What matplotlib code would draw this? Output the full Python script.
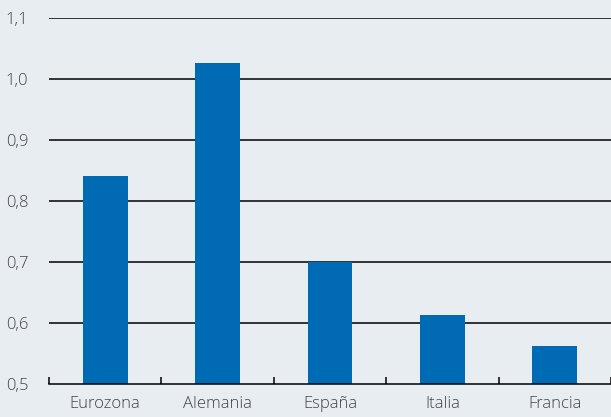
import matplotlib.pyplot as plt
import numpy as np

paises = ["Eurozona", "Alemania", "España", "Italia", "Francia"]
valores = [0.841, 1.026, 0.700, 0.613, 0.562]
yticks = [0.5, 0.6, 0.7, 0.8, 0.9, 1.0, 1.1]
ylabels = ["0,5", "0,6", "0,7", "0,8", "0,9", "1,0", "1,1"]

bg = "#e8edf2"
azul = "#006bb5"
texto = "#444444"

plt.rcParams['font.family'] = ['Open Sans', 'DejaVu Sans']

fig = plt.figure(figsize=(6.11, 4.17), dpi=100, facecolor=bg)
ax = fig.add_axes([49/611, 1 - 384/417, 1 - 49/611, (384 - 18)/417])
ax.set_facecolor(bg)

x = np.arange(len(paises))
ax.bar(x, valores, width=0.4, color=azul, zorder=3)

ax.set_ylim(0.5, 1.1)
ax.set_xlim(-0.5, len(paises) - 0.5)
ax.set_yticks(yticks)
ax.set_yticklabels(ylabels, color=texto, fontsize=12, fontweight='light')
for yv in yticks[1:]:
    ax.axhline(yv, color="black", lw=1.1, zorder=1)

ax.set_xticks(x)
ax.set_xticklabels(paises, color=texto, fontsize=12, fontweight='light')
ax.tick_params(axis='x', length=0, pad=9)
ax.set_xticks(np.arange(len(paises) + 1) - 0.5, minor=True)
ax.tick_params(axis='x', which='minor', direction='in', length=5, width=1.1, color="black")
ax.tick_params(axis='y', length=0, pad=15)

for s in ["top", "right", "left"]:
    ax.spines[s].set_visible(False)
ax.spines["bottom"].set_color("black")
ax.spines["bottom"].set_linewidth(1.1)
ax.spines["bottom"].set_zorder(4)

fig.savefig("out.png", dpi=100, facecolor=bg)
